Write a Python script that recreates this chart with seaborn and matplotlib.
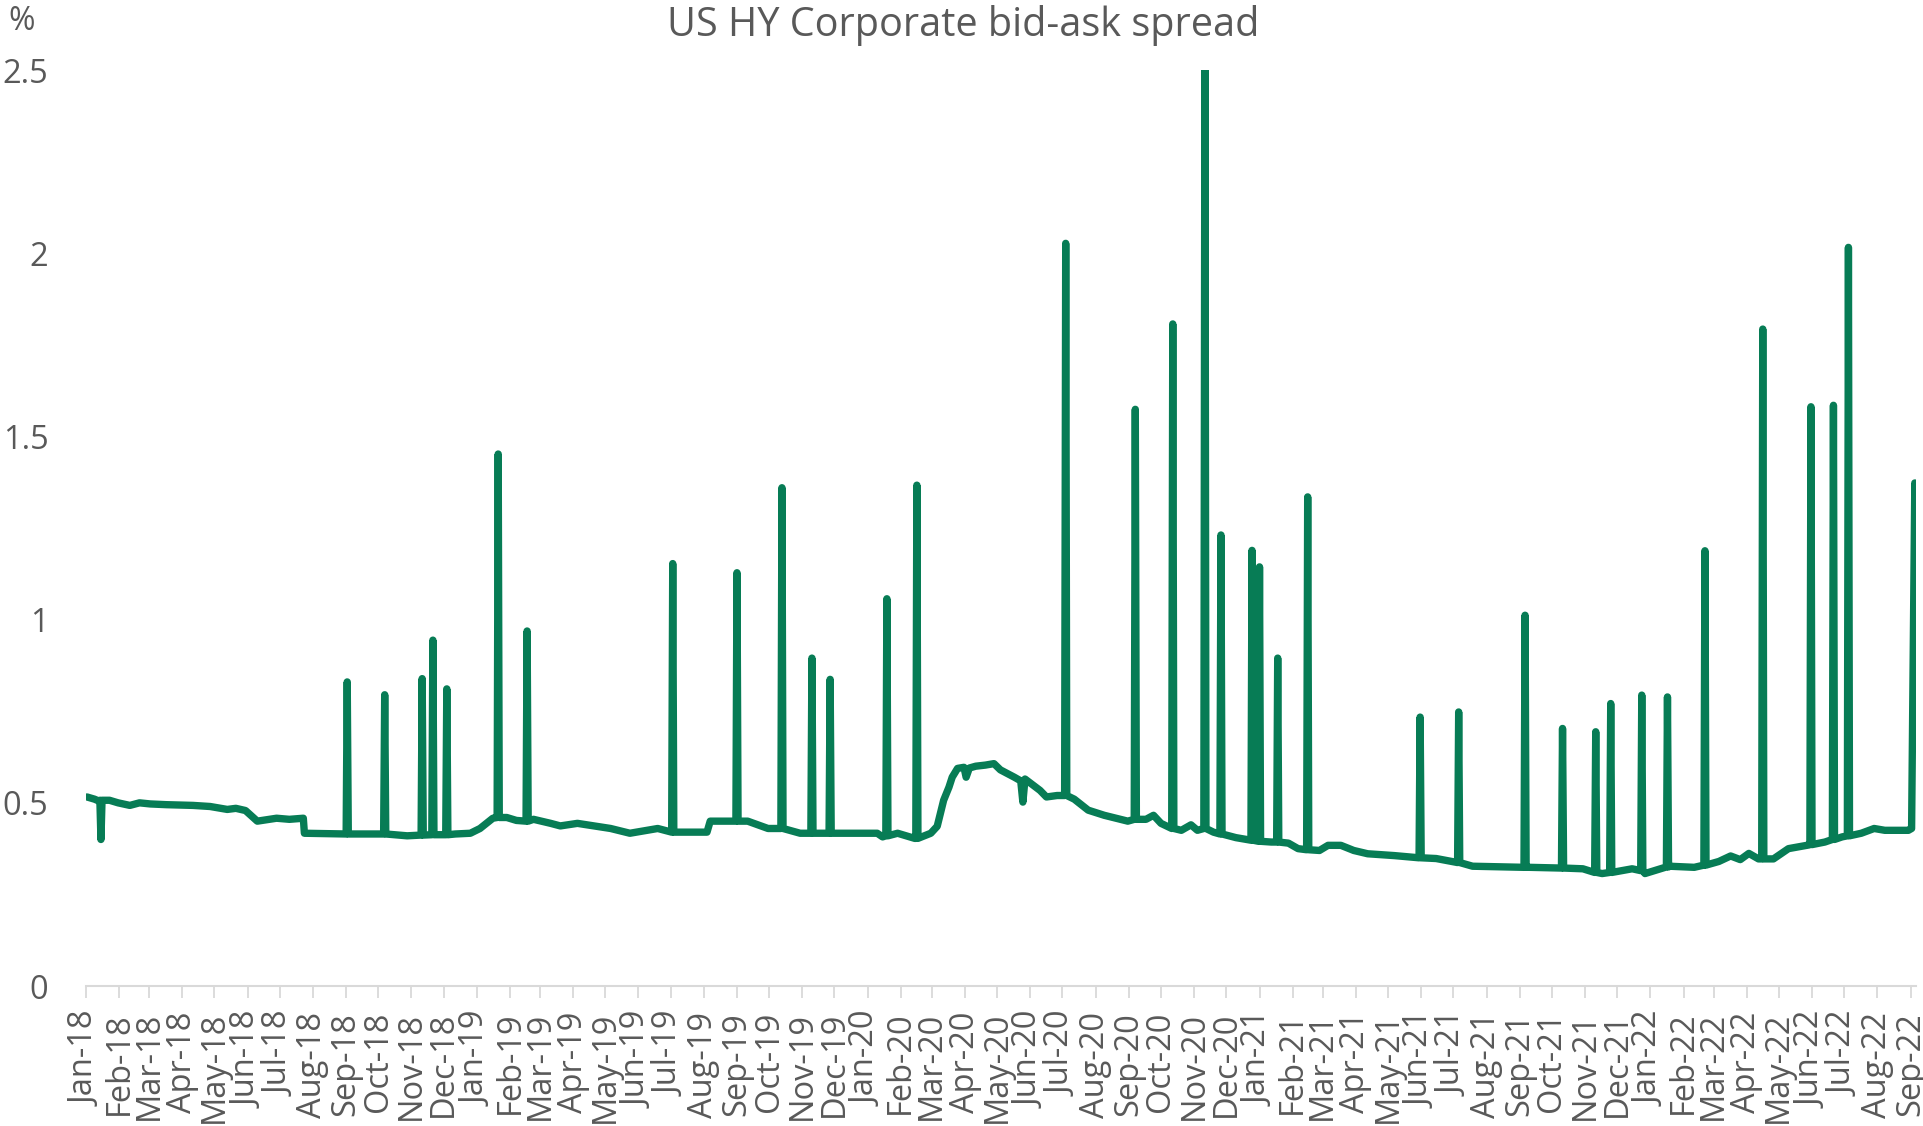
import numpy as np
import pandas as pd
import matplotlib
matplotlib.use("Agg")
import matplotlib.pyplot as plt
import matplotlib.dates as mdates
import seaborn as sns

# baseline level of the spread (%)
base_dates = [
    "2018-01-02", "2018-01-09", "2018-01-13", "2018-01-23", "2018-01-31",
    "2018-02-11", "2018-02-20", "2018-03-02", "2018-03-17", "2018-04-11",
    "2018-04-27", "2018-05-13", "2018-05-21", "2018-05-30", "2018-06-10",
    "2018-06-28", "2018-07-10", "2018-07-23", "2018-07-24", "2018-08-29",
    "2018-10-06", "2018-10-28", "2018-11-27", "2018-12-12", "2018-12-26",
    "2019-01-04", "2019-01-16", "2019-01-29", "2019-02-07", "2019-02-23",
    "2019-03-11", "2019-03-20", "2019-04-05", "2019-05-06", "2019-05-24",
    "2019-06-19", "2019-07-07", "2019-08-04", "2019-08-07", "2019-09-11",
    "2019-09-30", "2019-10-12", "2019-10-30", "2020-01-10", "2020-01-15",
    "2020-01-29", "2020-02-14", "2020-02-29", "2020-03-06", "2020-03-12",
    "2020-03-17", "2020-03-20", "2020-03-25", "2020-03-31", "2020-04-02",
    "2020-04-05", "2020-04-11", "2020-04-20", "2020-04-28", "2020-05-04",
    "2020-05-17", "2020-05-23", "2020-05-25", "2020-05-27", "2020-06-10",
    "2020-06-16", "2020-06-26", "2020-07-12", "2020-07-25", "2020-08-09",
    "2020-08-31", "2020-09-17", "2020-09-24", "2020-10-01", "2020-10-20",
    "2020-10-29", "2020-11-04", "2020-11-19", "2020-12-10", "2021-01-12",
    "2021-01-28", "2021-02-06", "2021-02-26", "2021-03-06", "2021-03-18",
    "2021-03-30", "2021-04-12", "2021-05-07", "2021-06-15", "2021-07-19",
    "2021-09-10", "2021-10-30", "2021-11-17", "2021-12-15", "2021-12-27",
    "2022-01-19", "2022-02-11", "2022-03-06", "2022-03-17", "2022-03-26",
    "2022-04-03", "2022-04-12", "2022-04-26", "2022-05-10", "2022-05-29",
    "2022-06-13", "2022-06-29", "2022-07-17", "2022-07-29", "2022-08-08",
    "2022-08-30", "2022-09-02", "2022-09-05", "2022-09-06",
]
base_vals = [
    0.516, 0.510, 0.505, 0.507, 0.500,
    0.493, 0.500, 0.497, 0.495, 0.493,
    0.490, 0.482, 0.485, 0.479, 0.450,
    0.458, 0.455, 0.458, 0.417, 0.415,
    0.415, 0.410, 0.413, 0.415, 0.417,
    0.430, 0.458, 0.460, 0.452, 0.455,
    0.444, 0.437, 0.444, 0.430, 0.417,
    0.430, 0.420, 0.420, 0.450, 0.450,
    0.430, 0.430, 0.417, 0.417, 0.407,
    0.417, 0.403, 0.417, 0.436, 0.507,
    0.543, 0.570, 0.594, 0.597, 0.570,
    0.595, 0.600, 0.603, 0.607, 0.590,
    0.570, 0.560, 0.502, 0.565, 0.534,
    0.516, 0.520, 0.510, 0.480, 0.466,
    0.450, 0.455, 0.466, 0.444, 0.425,
    0.440, 0.425, 0.420, 0.405, 0.393,
    0.390, 0.375, 0.370, 0.384, 0.384,
    0.370, 0.361, 0.356, 0.348, 0.327,
    0.324, 0.320, 0.307, 0.320, 0.307,
    0.327, 0.324, 0.340, 0.355, 0.345,
    0.362, 0.347, 0.347, 0.375, 0.385,
    0.393, 0.407, 0.417, 0.430, 0.425,
    0.425, 0.430, 1.373, 1.135,
]

# one-day jumps: date, peak value, level on the days either side
spike_dates = [
    "2018-01-15", "2018-09-02", "2018-10-07", "2018-11-11", "2018-11-21",
    "2018-12-04", "2019-01-21", "2019-02-17", "2019-07-03", "2019-09-01",
    "2019-10-13", "2019-11-10", "2019-11-27", "2020-01-19", "2020-02-16",
    "2020-07-04", "2020-09-07", "2020-10-12", "2020-11-11", "2020-11-26",
    "2020-12-25", "2021-01-01", "2021-01-18", "2021-02-15", "2021-05-31",
    "2021-07-06", "2021-09-06", "2021-10-11", "2021-11-11", "2021-11-25",
    "2021-12-24", "2022-01-17", "2022-02-21", "2022-04-16", "2022-05-31",
    "2022-06-21", "2022-07-05",
]
spike_peaks = [
    0.400, 0.830, 0.795, 0.839, 0.944,
    0.811, 1.452, 0.969, 1.153, 1.128,
    1.360, 0.895, 0.837, 1.057, 1.367,
    2.027, 1.574, 1.807, 2.550, 1.231,
    1.189, 1.144, 0.895, 1.335, 0.734,
    0.748, 1.012, 0.703, 0.694, 0.771,
    0.794, 0.789, 1.188, 1.793, 1.581,
    1.585, 2.016,
]
spike_base = [
    0.507, 0.415, 0.415, 0.412, 0.413,
    0.413, 0.460, 0.450, 0.420, 0.450,
    0.430, 0.417, 0.417, 0.410, 0.403,
    0.520, 0.455, 0.430, 0.430, 0.415,
    0.398, 0.395, 0.393, 0.372, 0.350,
    0.337, 0.324, 0.322, 0.310, 0.310,
    0.315, 0.325, 0.330, 0.347, 0.386,
    0.400, 0.410,
]

green = "#077c55"
grey = "#595959"

rows = [pd.DataFrame({"date": pd.to_datetime(base_dates), "spread": base_vals})]
for d, p, b in zip(spike_dates, spike_peaks, spike_base):
    d = pd.Timestamp(d)
    one = pd.Timedelta(days=1)
    rows.append(pd.DataFrame({"date": [d - one, d, d + one], "spread": [b, p, b]}))
df = pd.concat(rows).sort_values("date").reset_index(drop=True)

sns.set_theme(style="white")
plt.rcParams["font.family"] = ["Open Sans", "DejaVu Sans"]

fig = plt.figure(figsize=(19.23, 11.26), dpi=100)
ax = fig.add_axes([0.0447, 0.1243, 0.9516, 0.8135])

sns.lineplot(data=df, x="date", y="spread", estimator=None, sort=False,
             color=green, linewidth=5.3, ax=ax)
for l in ax.lines:
    l.set_solid_capstyle("round")
    l.set_solid_joinstyle("round")

ax.set_xlim(pd.Timestamp("2018-01-01"), pd.Timestamp("2022-09-06"))
ax.set_ylim(0, 2.5)
ax.set_yticks([0, 0.5, 1, 1.5, 2, 2.5])
ax.set_yticklabels(["0", "0.5", "1", "1.5", "2", "2.5"])
ax.xaxis.set_major_locator(mdates.MonthLocator())
ax.xaxis.set_major_formatter(mdates.DateFormatter("%b-%y"))
ax.set_xlabel("")
ax.set_ylabel("")

for s in ["left", "top", "right"]:
    ax.spines[s].set_visible(False)
ax.spines["bottom"].set_color("#d9d9d9")
ax.spines["bottom"].set_linewidth(1.5)

ax.tick_params(axis="x", which="major", direction="out", length=8.6, width=1.3,
               color="#d9d9d9", labelcolor=grey, labelsize=23.5, pad=10,
               labelrotation=90, bottom=True)
ax.tick_params(axis="y", length=0, labelcolor=grey, labelsize=23.5, pad=27)

fig.text(0.5008, 1 - 26 / 1126, "US HY Corporate bid-ask spread",
         ha="center", va="center", fontsize=28.5, color=grey)
fig.text(22 / 1923, 1 - 22 / 1126, "%", ha="center", va="center",
         fontsize=23, color=grey)

fig.savefig("out.png", dpi=100)
